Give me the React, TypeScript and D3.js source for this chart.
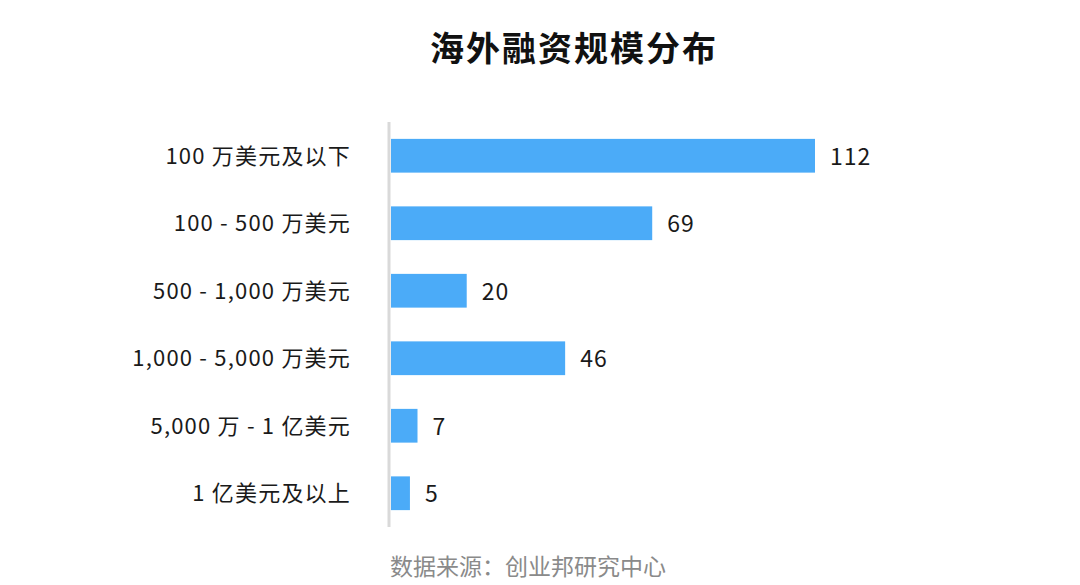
import React from "react";
import * as d3 from "d3";

const WIDTH = 1080;
const HEIGHT = 585;

const categories = [
  "100 万美元及以下",
  "100 - 500 万美元",
  "500 - 1,000 万美元",
  "1,000 - 5,000 万美元",
  "5,000 万 - 1 亿美元",
  "1 亿美元及以上",
];
const values = [112, 69, 20, 46, 7, 5];

const TITLE = "海外融资规模分布";
const SOURCE = "数据来源：创业邦研究中心";

const FONT = "'Noto Sans CJK SC', 'Noto Sans', sans-serif";

export default function App() {
  const x = d3.scaleLinear().domain([0, 112]).range([391, 815]);
  const y = d3
    .scaleBand<string>()
    .domain(categories)
    .range([122, 527])
    .paddingInner(0.5)
    .paddingOuter(0.25);

  return (
    <svg
      width={WIDTH}
      height={HEIGHT}
      style={{ position: "absolute", left: 0, top: 0, background: "#fff" }}
      fontFamily={FONT}
    >
      <text
        x={574}
        y={46}
        textAnchor="middle"
        dominantBaseline="central"
        fontSize={34}
        fontWeight={700}
        letterSpacing={2}
        fill="#111"
      >
        {TITLE}
      </text>

      {categories.map((c, i) => {
        const yc = (y(c) as number) + y.bandwidth() / 2;
        return (
          <g key={c}>
            <rect
              x={x(0)}
              y={y(c)}
              width={x(values[i]) - x(0)}
              height={y.bandwidth()}
              fill="#4babf8"
            />
            <text
              x={351}
              y={yc - 2}
              textAnchor="end"
              dominantBaseline="central"
              fontSize={22}
              letterSpacing={1.2}
              fill="#1a1a1a"
            >
              {c}
            </text>
            <text
              x={x(values[i]) + 15}
              y={yc - 1}
              dominantBaseline="central"
              fontSize={23}
              letterSpacing={1}
              fill="#1a1a1a"
            >
              {values[i]}
            </text>
          </g>
        );
      })}

      <line x1={389} x2={389} y1={122} y2={527} stroke="#d9d9d9" strokeWidth={3} />

      <text
        x={528}
        y={565}
        textAnchor="middle"
        dominantBaseline="central"
        fontSize={23}
        fill="#8a8a8a"
      >
        {SOURCE}
      </text>
    </svg>
  );
}
